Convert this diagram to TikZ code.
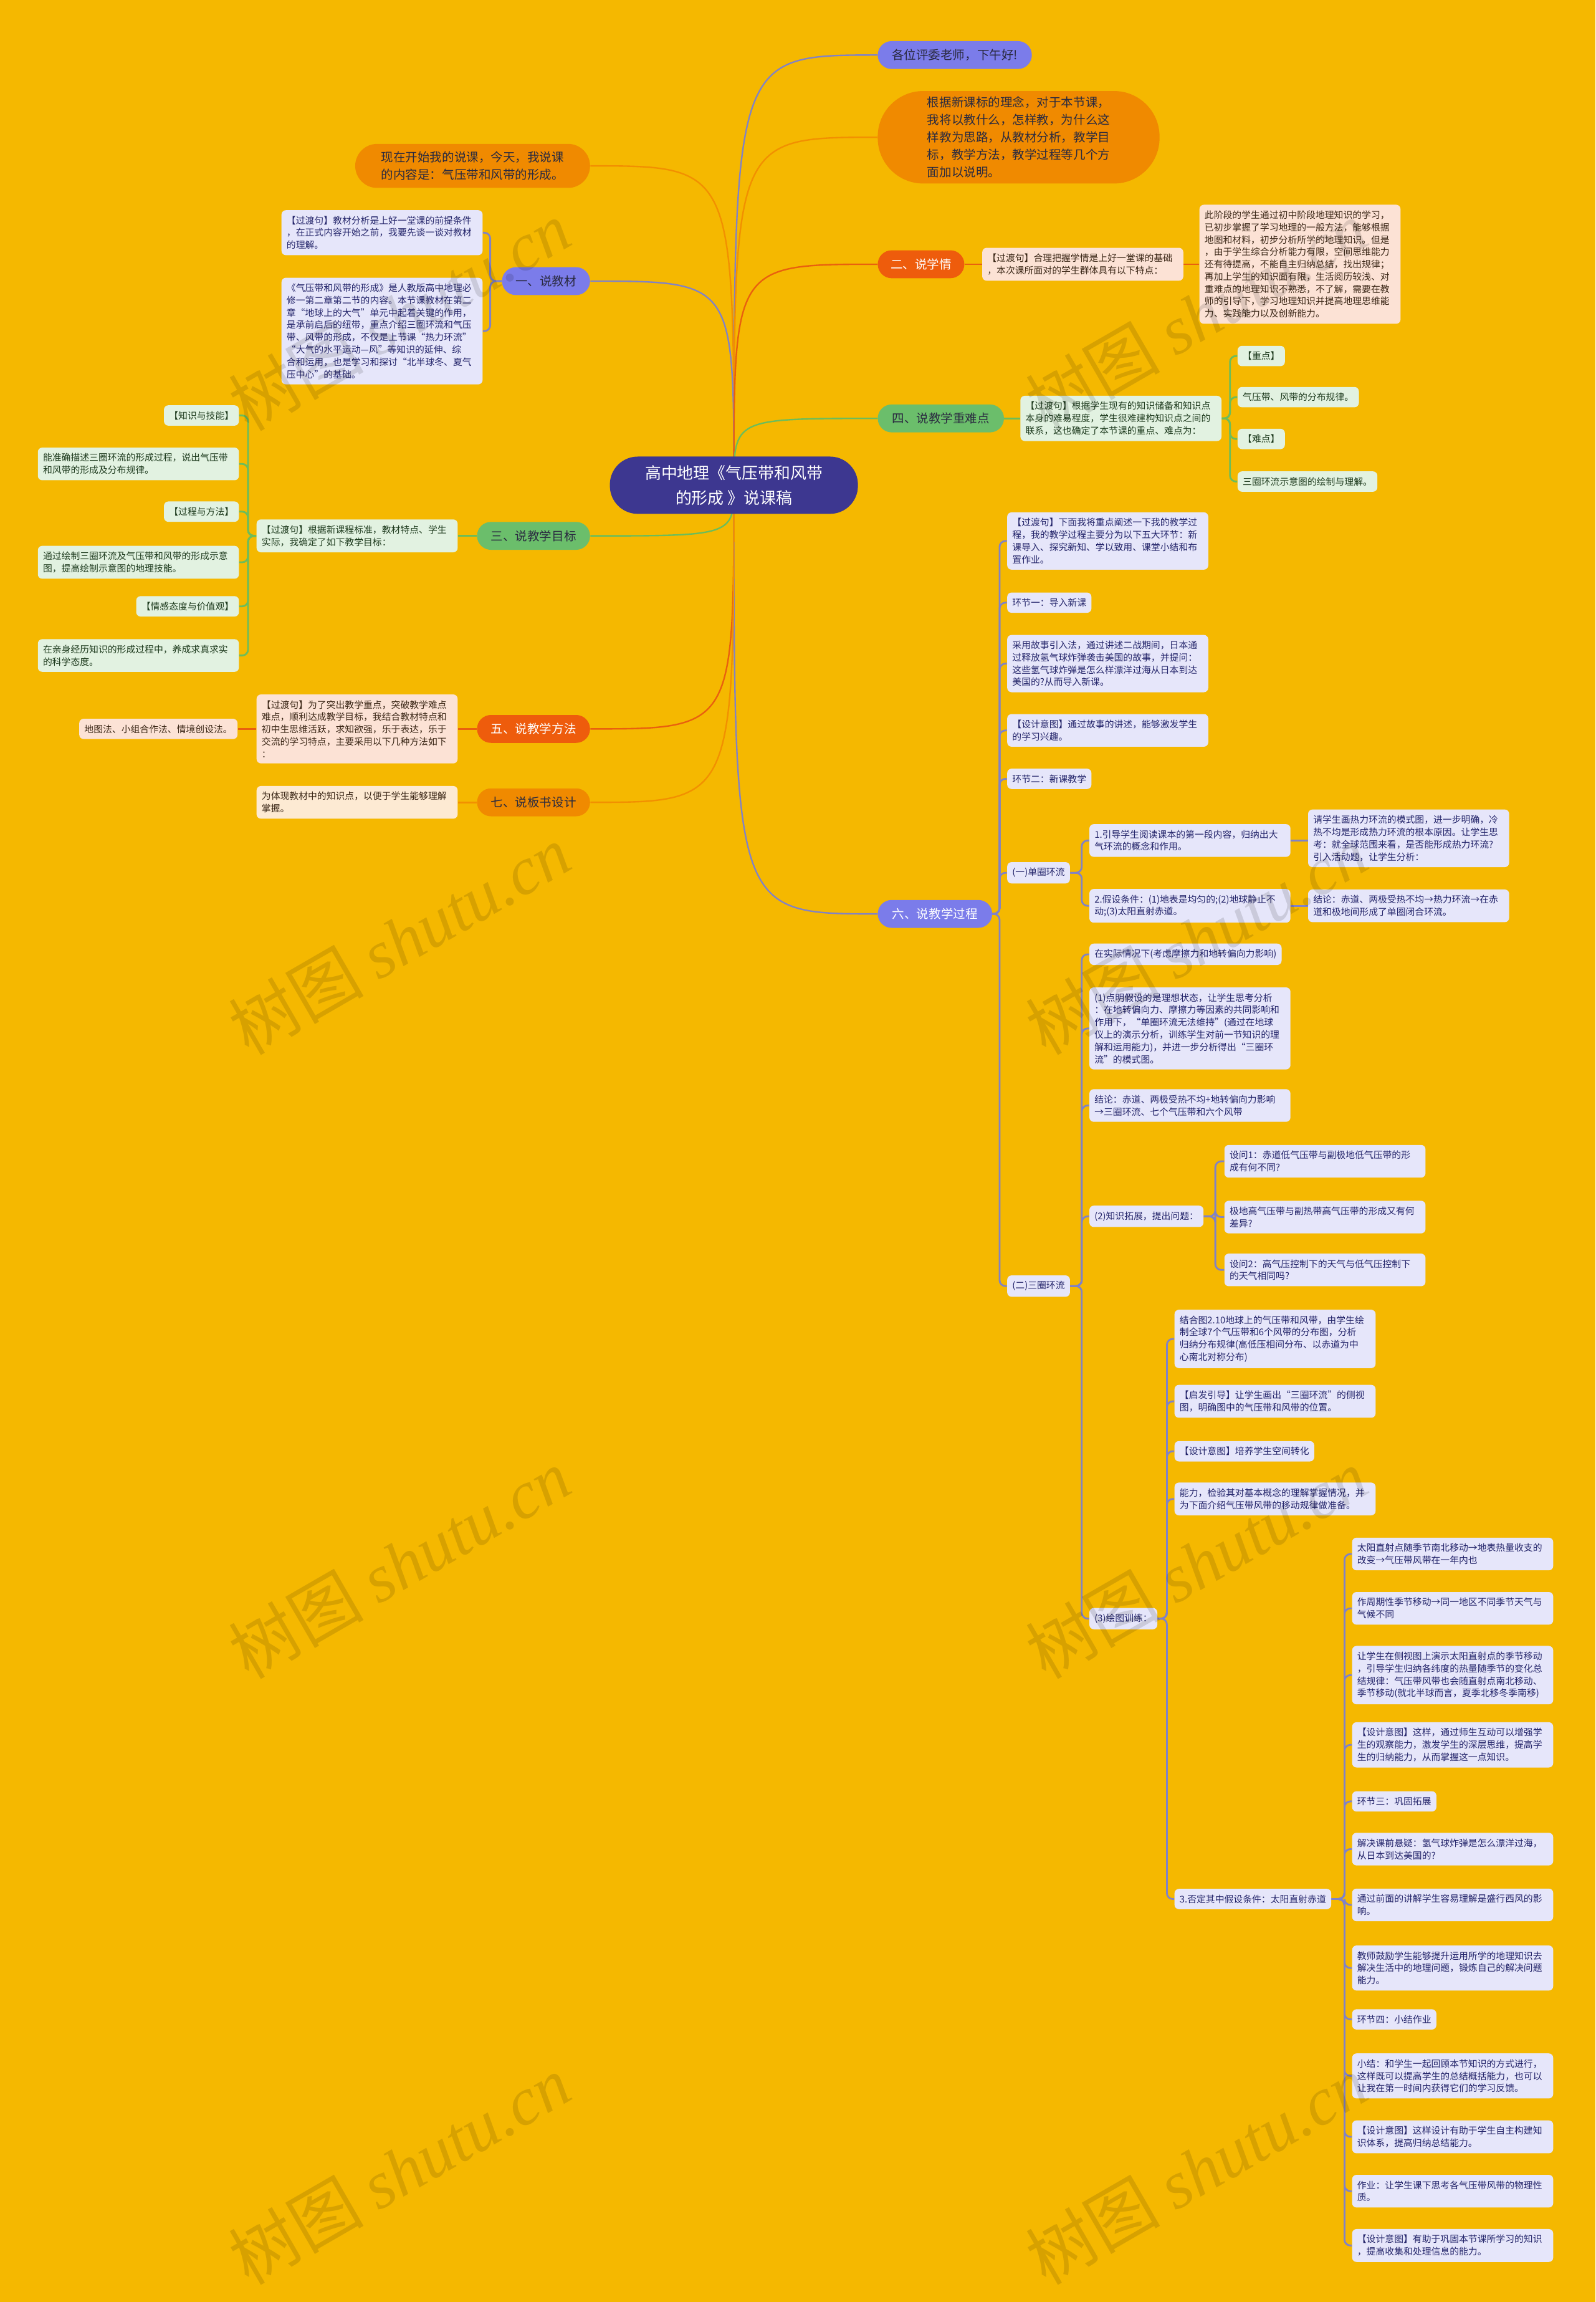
\documentclass[tikz,border=0pt]{standalone}
\usepackage{fontspec}
\setmainfont{Noto Sans CJK SC}
\newfontfamily\wmfont{Liberation Serif}
\usetikzlibrary{calc}
\definecolor{bgc}{HTML}{F5B800}
\definecolor{rootc}{HTML}{3D3790}
\definecolor{purpc}{HTML}{7B7CEA}
\definecolor{purpl}{HTML}{8182C6}
\definecolor{lavfill}{HTML}{E6E6FA}
\definecolor{lavtext}{HTML}{23246A}
\definecolor{orngc}{HTML}{F08A00}
\definecolor{orngl}{HTML}{F29000}
\definecolor{ogfill}{HTML}{FDEAD3}
\definecolor{redc}{HTML}{EE5C0C}
\definecolor{redl}{HTML}{E9600E}
\definecolor{rdfill}{HTML}{FCE2D5}
\definecolor{rdtext}{HTML}{3A2616}
\definecolor{grnc}{HTML}{6BBE6B}
\definecolor{grnl}{HTML}{6CBD5A}
\definecolor{grfill}{HTML}{E2F2E1}
\definecolor{grtext}{HTML}{1D3A1D}
\definecolor{darktxt}{HTML}{2A2A40}
\pgfdeclarelayer{back}
\pgfdeclarelayer{edges}
\pgfdeclarelayer{front}
\pgfsetlayers{back,edges,main,front}
\tikzset{
 rootnode/.style={fill=rootc,text=white,rounded corners=19pt,minimum width=169pt,minimum height=39pt,inner sep=0pt,align=center,font=\fontsize{11}{17}\selectfont},
 pill/.style={rounded corners=9.5pt,minimum height=19pt,inner sep=0pt,align=center,font=\fontsize{8.3}{10}\selectfont},
 bigpill/.style={inner sep=0pt,align=left,text=darktxt,font=\fontsize{8.3}{11.9}\selectfont},
 leafbase/.style={rounded corners=3pt,inner xsep=3.5pt,inner ysep=4pt,align=left,font=\fontsize{6.3}{8.4}\selectfont},
 lv/.style={leafbase,fill=lavfill,text=lavtext},
 gr/.style={leafbase,fill=grfill,text=grtext},
 rd/.style={leafbase,fill=rdfill,text=rdtext},
 og/.style={leafbase,fill=ogfill,text=rdtext},
 twide/.style={text width=130pt},
 mainln/.style={line width=1pt},
 brk/.style={line width=1.2pt,rounded corners=4pt},
 wm/.style={rotate=30,text=black,opacity=0.12,font=\fontsize{46}{46}\selectfont},
}
\begin{document}
\begin{tikzpicture}[x=1pt,y=-1pt]
\begin{pgfonlayer}{back}
\fill[bgc] (0,0) rectangle (1087,1568);
\end{pgfonlayer}
\useasboundingbox (0,0) rectangle (1087,1568);

% ---------- root and first level ----------
\node[rootnode] (root) at (500,330.5) {高中地理《气压带和风带\\的形成 》说课稿};
\node[pill,fill=purpc,text=darktxt,minimum width=105pt] (n0) at (650.5,37.5) {各位评委老师，下午好!};
\node[bigpill,fill=orngc,minimum width=192pt,minimum height=63pt,rounded corners=31pt] (nA) at (694,93.5) {根据新课标的理念，对于本节课，\\我将以教什么，怎样教，为什么这\\样教为思路，从教材分析，教学目\\标，教学方法，教学过程等几个方\\面加以说明。};
\node[bigpill,fill=orngc,minimum width=160pt,minimum height=30pt,rounded corners=15pt] (nB) at (322,113) {现在开始我的说课，今天，我说课\\的内容是：气压带和风带的形成。};
\node[pill,fill=purpc,text=darktxt,minimum width=60pt] (n1) at (372,191.5) {一、说教材};
\node[pill,fill=redc,text=white,minimum width=59pt] (n2) at (627.5,180) {二、说学情};
\node[pill,fill=grnc,text=darktxt,minimum width=77pt] (n3) at (363.5,365) {三、说教学目标};
\node[pill,fill=grnc,text=darktxt,minimum width=86pt] (n4) at (641,285) {四、说教学重难点};
\node[pill,fill=redc,text=white,minimum width=77pt] (n5) at (363.5,496.5) {五、说教学方法};
\node[pill,fill=purpc,text=white,minimum width=78pt] (n6) at (637,622.5) {六、说教学过程};
\node[pill,fill=orngc,text=darktxt,minimum width=77pt] (n7) at (363.5,546.5) {七、说板书设计};

% ---------- branch 1 ----------
\node[lv,twide,anchor=east] (a1) at (329,158.5) {【过渡句】教材分析是上好一堂课的前提条件\\，在正式内容开始之前，我要先谈一谈对教材\\的理解。};
\node[lv,twide,anchor=east] (a2) at (329,225.5) {《气压带和风带的形成》是人教版高中地理必\\修一第二章第二节的内容。本节课教材在第二\\章“地球上的大气”单元中起着关键的作用，\\是承前启后的纽带，重点介绍三圈环流和气压\\带、风带的形成，不仅是上节课“热力环流”\\“大气的水平运动—风”等知识的延伸、综\\合和运用，也是学习和探讨“北半球冬、夏气\\压中心”的基础。};

% ---------- branch 2 ----------
\node[rd,twide,anchor=west] (b1) at (669,180) {【过渡句】合理把握学情是上好一堂课的基础\\，本次课所面对的学生群体具有以下特点：};
\node[rd,twide,anchor=west] (b2) at (817,180) {此阶段的学生通过初中阶段地理知识的学习，\\已初步掌握了学习地理的一般方法，能够根据\\地图和材料，初步分析所学的地理知识。但是\\，由于学生综合分析能力有限，空间思维能力\\还有待提高，不能自主归纳总结，找出规律；\\再加上学生的知识面有限，生活阅历较浅、对\\重难点的地理知识不熟悉，不了解，需要在教\\师的引导下，学习地理知识并提高地理思维能\\力、实践能力以及创新能力。};

% ---------- branch 4 ----------
\node[gr,twide,anchor=west] (d1) at (695,285) {【过渡句】根据学生现有的知识储备和知识点\\本身的难易程度，学生很难建构知识点之间的\\联系，这也确定了本节课的重点、难点为：};
\node[gr,anchor=west] (d2) at (843,242.5) {【重点】};
\node[gr,anchor=west] (d3) at (843,270.5) {气压带、风带的分布规律。};
\node[gr,anchor=west] (d4) at (843,299) {【难点】};
\node[gr,anchor=west] (d5) at (843,328) {三圈环流示意图的绘制与理解。};

% ---------- branch 3 ----------
\node[gr,twide,anchor=east] (c1) at (312,365) {【过渡句】根据新课程标准，教材特点、学生\\实际，我确定了如下教学目标：};
\node[gr,anchor=east] (c2) at (163,283) {【知识与技能】};
\node[gr,twide,anchor=east] (c3) at (163,316) {能准确描述三圈环流的形成过程，说出气压带\\和风带的形成及分布规律。};
\node[gr,anchor=east] (c4) at (163,348.5) {【过程与方法】};
\node[gr,twide,anchor=east] (c5) at (163,383) {通过绘制三圈环流及气压带和风带的形成示意\\图，提高绘制示意图的地理技能。};
\node[gr,anchor=east] (c6) at (163,413) {【情感态度与价值观】};
\node[gr,twide,anchor=east] (c7) at (163,446.5) {在亲身经历知识的形成过程中，养成求真求实\\的科学态度。};

% ---------- branch 5 & 7 ----------
\node[rd,twide,anchor=east] (e1) at (312,496.5) {【过渡句】为了突出教学重点，突破教学难点\\难点，顺利达成教学目标，我结合教材特点和\\初中生思维活跃，求知欲强，乐于表达，乐于\\交流的学习特点，主要采用以下几种方法如下\\：};
\node[rd,anchor=east] (e2) at (162,496.5) {地图法、小组合作法、情境创设法。};
\node[og,twide,anchor=east] (g1) at (312,546.5) {为体现教材中的知识点，以便于学生能够理解\\掌握。};

% ---------- branch 6 ----------
\node[lv,twide,anchor=west] (f1) at (686,368.5) {【过渡句】下面我将重点阐述一下我的教学过\\程，我的教学过程主要分为以下五大环节：新\\课导入、探究新知、学以致用、课堂小结和布\\置作业。};
\node[lv,anchor=west] (f2) at (686,410.5) {环节一：导入新课};
\node[lv,twide,anchor=west] (f3) at (686,452) {采用故事引入法，通过讲述二战期间，日本通\\过释放氢气球炸弹袭击美国的故事，并提问：\\这些氢气球炸弹是怎么样漂洋过海从日本到达\\美国的?从而导入新课。};
\node[lv,twide,anchor=west] (f4) at (686,497.5) {【设计意图】通过故事的讲述，能够激发学生\\的学习兴趣。};
\node[lv,anchor=west] (f5) at (686,530.5) {环节二：新课教学};
\node[lv,anchor=west] (f6) at (686,594.5) {(一)单圈环流};
\node[lv,anchor=west] (f7) at (686,876) {(二)三圈环流};

\node[lv,twide,anchor=west] (h1) at (742,572.5) {1.引导学生阅读课本的第一段内容，归纳出大\\气环流的概念和作用。};
\node[lv,twide,anchor=west] (h2) at (742,617) {2.假设条件：(1)地表是均匀的;(2)地球静止不\\动;(3)太阳直射赤道。};
\node[lv,twide,anchor=west] (h1a) at (891,571) {请学生画热力环流的模式图，进一步明确，冷\\热不均是形成热力环流的根本原因。让学生思\\考：就全球范围来看，是否能形成热力环流?\\引入活动题，让学生分析：};
\node[lv,twide,anchor=west] (h2a) at (891,617) {结论：赤道、两极受热不均→热力环流→在赤\\道和极地间形成了单圈闭合环流。};

\node[lv,anchor=west] (i1) at (742,650) {在实际情况下(考虑摩擦力和地转偏向力影响)};
\node[lv,twide,anchor=west] (i2) at (742,700.5) {(1)点明假设的是理想状态，让学生思考分析\\：在地转偏向力、摩擦力等因素的共同影响和\\作用下，“单圈环流无法维持”(通过在地球\\仪上的演示分析，训练学生对前一节知识的理\\解和运用能力)，并进一步分析得出“三圈环\\流”的模式图。};
\node[lv,twide,anchor=west] (i3) at (742,753) {结论：赤道、两极受热不均+地转偏向力影响\\→三圈环流、七个气压带和六个风带};
\node[lv,anchor=west] (i4) at (742,828.5) {(2)知识拓展，提出问题：};
\node[lv,anchor=west] (i5) at (742,1102.5) {(3)绘图训练：};

\node[lv,twide,anchor=west] (j1) at (834,791) {设问1：赤道低气压带与副极地低气压带的形\\成有何不同?};
\node[lv,twide,anchor=west] (j2) at (834,829) {极地高气压带与副热带高气压带的形成又有何\\差异?};
\node[lv,twide,anchor=west] (j3) at (834,865) {设问2：高气压控制下的天气与低气压控制下\\的天气相同吗?};

\node[lv,twide,anchor=west] (k1) at (800,912) {结合图2.10地球上的气压带和风带，由学生绘\\制全球7个气压带和6个风带的分布图，分析\\归纳分布规律(高低压相间分布、以赤道为中\\心南北对称分布)};
\node[lv,twide,anchor=west] (k2) at (800,954.5) {【启发引导】让学生画出“三圈环流”的侧视\\图，明确图中的气压带和风带的位置。};
\node[lv,anchor=west] (k3) at (800,988.5) {【设计意图】培养学生空间转化};
\node[lv,twide,anchor=west] (k4) at (800,1021) {能力，检验其对基本概念的理解掌握情况，并\\为下面介绍气压带风带的移动规律做准备。};
\node[lv,anchor=west] (k5) at (800,1293.5) {3.否定其中假设条件：太阳直射赤道};

\node[lv,twide,anchor=west] (m1) at (921,1058.5) {太阳直射点随季节南北移动→地表热量收支的\\改变→气压带风带在一年内也};
\node[lv,twide,anchor=west] (m2) at (921,1095.5) {作周期性季节移动→同一地区不同季节天气与\\气候不同};
\node[lv,twide,anchor=west] (m3) at (921,1141) {让学生在侧视图上演示太阳直射点的季节移动\\，引导学生归纳各纬度的热量随季节的变化总\\结规律：气压带风带也会随直射点南北移动、\\季节移动(就北半球而言，夏季北移冬季南移)};
\node[lv,twide,anchor=west] (m4) at (921,1188.5) {【设计意图】这样，通过师生互动可以增强学\\生的观察能力，激发学生的深层思维，提高学\\生的归纳能力，从而掌握这一点知识。};
\node[lv,anchor=west] (m5) at (921,1227) {环节三：巩固拓展};
\node[lv,twide,anchor=west] (m6) at (921,1259.5) {解决课前悬疑：氢气球炸弹是怎么漂洋过海，\\从日本到达美国的?};
\node[lv,twide,anchor=west] (m7) at (921,1297.5) {通过前面的讲解学生容易理解是盛行西风的影\\响。};
\node[lv,twide,anchor=west] (m8) at (921,1340.5) {教师鼓励学生能够提升运用所学的地理知识去\\解决生活中的地理问题，锻炼自己的解决问题\\能力。};
\node[lv,anchor=west] (m9) at (921,1375.5) {环节四：小结作业};
\node[lv,twide,anchor=west] (m10) at (921,1414) {小结：和学生一起回顾本节知识的方式进行，\\这样既可以提高学生的总结概括能力，也可以\\让我在第一时间内获得它们的学习反馈。};
\node[lv,twide,anchor=west] (m11) at (921,1455.5) {【设计意图】这样设计有助于学生自主构建知\\识体系，提高归纳总结能力。};
\node[lv,twide,anchor=west] (m12) at (921,1492.5) {作业：让学生课下思考各气压带风带的物理性\\质。};
\node[lv,twide,anchor=west] (m13) at (921,1529.5) {【设计意图】有助于巩固本节课所学习的知识\\，提高收集和处理信息的能力。};

% ---------- bracket positions ----------
\coordinate (K1) at (334,0);
\coordinate (K3) at (169,0);
\coordinate (K4) at (838,0);
\coordinate (K6) at (681,0);
\coordinate (KA) at (737,0);
\coordinate (KB) at (737,0);
\coordinate (KC) at (828,0);
\coordinate (KD) at (795,0);
\coordinate (KE) at (916,0);

% ---------- edges ----------
\begin{pgfonlayer}{edges}
\draw[mainln,purpl] (root.center) .. controls (root.center |- n0.west) .. (n0.west);
\draw[mainln,orngl] (root.center) .. controls (root.center |- nA.west) .. (nA.west);
\draw[mainln,orngl] (root.center) .. controls (root.center |- nB.east) .. (nB.east);
\draw[mainln,purpl] (root.center) .. controls (root.center |- n1.east) .. (n1.east);
\draw[mainln,redl] (root.center) .. controls (root.center |- n2.west) .. (n2.west);
\draw[mainln,grnl] (root.center) .. controls (root.center |- n3.east) .. (n3.east);
\draw[mainln,grnl] (root.center) .. controls (root.center |- n4.west) .. (n4.west);
\draw[mainln,redl] (root.center) .. controls (root.center |- n5.east) .. (n5.east);
\draw[mainln,purpl] (root.center) .. controls (root.center |- n6.west) .. (n6.west);
\draw[mainln,orngl] (root.center) .. controls (root.center |- n7.east) .. (n7.east);

% branch 1
\foreach \c in {a1,a2} \draw[brk,purpl] (n1.west) -- (n1.west -| K1) |- (\c.east);
% branch 2
\draw[brk,redl] (n2.east) -- (b1.west);
\draw[brk,redl] (b1.east) -- (b2.west);
% branch 4
\draw[brk,grnl] (n4.east) -- (d1.west);
\foreach \c in {d2,d3,d4,d5} \draw[brk,grnl] (d1.east) -- (d1.east -| K4) |- (\c.west);
% branch 3
\draw[brk,grnl] (n3.west) -- (c1.east);
\foreach \c in {c2,c3,c4,c5,c6,c7} \draw[brk,grnl] (c1.west) -- (c1.west -| K3) |- (\c.east);
% branch 5 & 7
\draw[brk,redl] (n5.west) -- (e1.east);
\draw[brk,redl] (e1.west) -- (e2.east);
\draw[brk,orngl] (n7.west) -- (g1.east);
% branch 6
\foreach \c in {f1,f2,f3,f4,f5,f6,f7} \draw[brk,purpl] (n6.east) -- (n6.east -| K6) |- (\c.west);
\foreach \c in {h1,h2} \draw[brk,purpl] (f6.east) -- (f6.east -| KA) |- (\c.west);
\draw[brk,purpl] (h1.east) -- (h1.east -| h1a.west);
\draw[brk,purpl] (h2.east) -- (h2a.west);
\foreach \c in {i1,i2,i3,i4,i5} \draw[brk,purpl] (f7.east) -- (f7.east -| KB) |- (\c.west);
\foreach \c in {j1,j2,j3} \draw[brk,purpl] (i4.east) -- (i4.east -| KC) |- (\c.west);
\foreach \c in {k1,k2,k3,k4,k5} \draw[brk,purpl] (i5.east) -- (i5.east -| KD) |- (\c.west);
\foreach \c in {m1,m2,m3,m4,m5,m6,m7,m8,m9,m10,m11,m12,m13} \draw[brk,purpl] (k5.east) -- (k5.east -| KE) |- (\c.west);
\end{pgfonlayer}

% ---------- watermarks ----------
\begin{pgfonlayer}{front}
\foreach \wx/\wy [count=\wi] in {272/215,815/215,272/640,815/640,272/1065,815/1065,272/1478,815/1478}
  \node[wm] (wm\wi) at (\wx,\wy) {树图 {\wmfont\itshape shutu.cn}};
\end{pgfonlayer}
\end{tikzpicture}
\end{document}
